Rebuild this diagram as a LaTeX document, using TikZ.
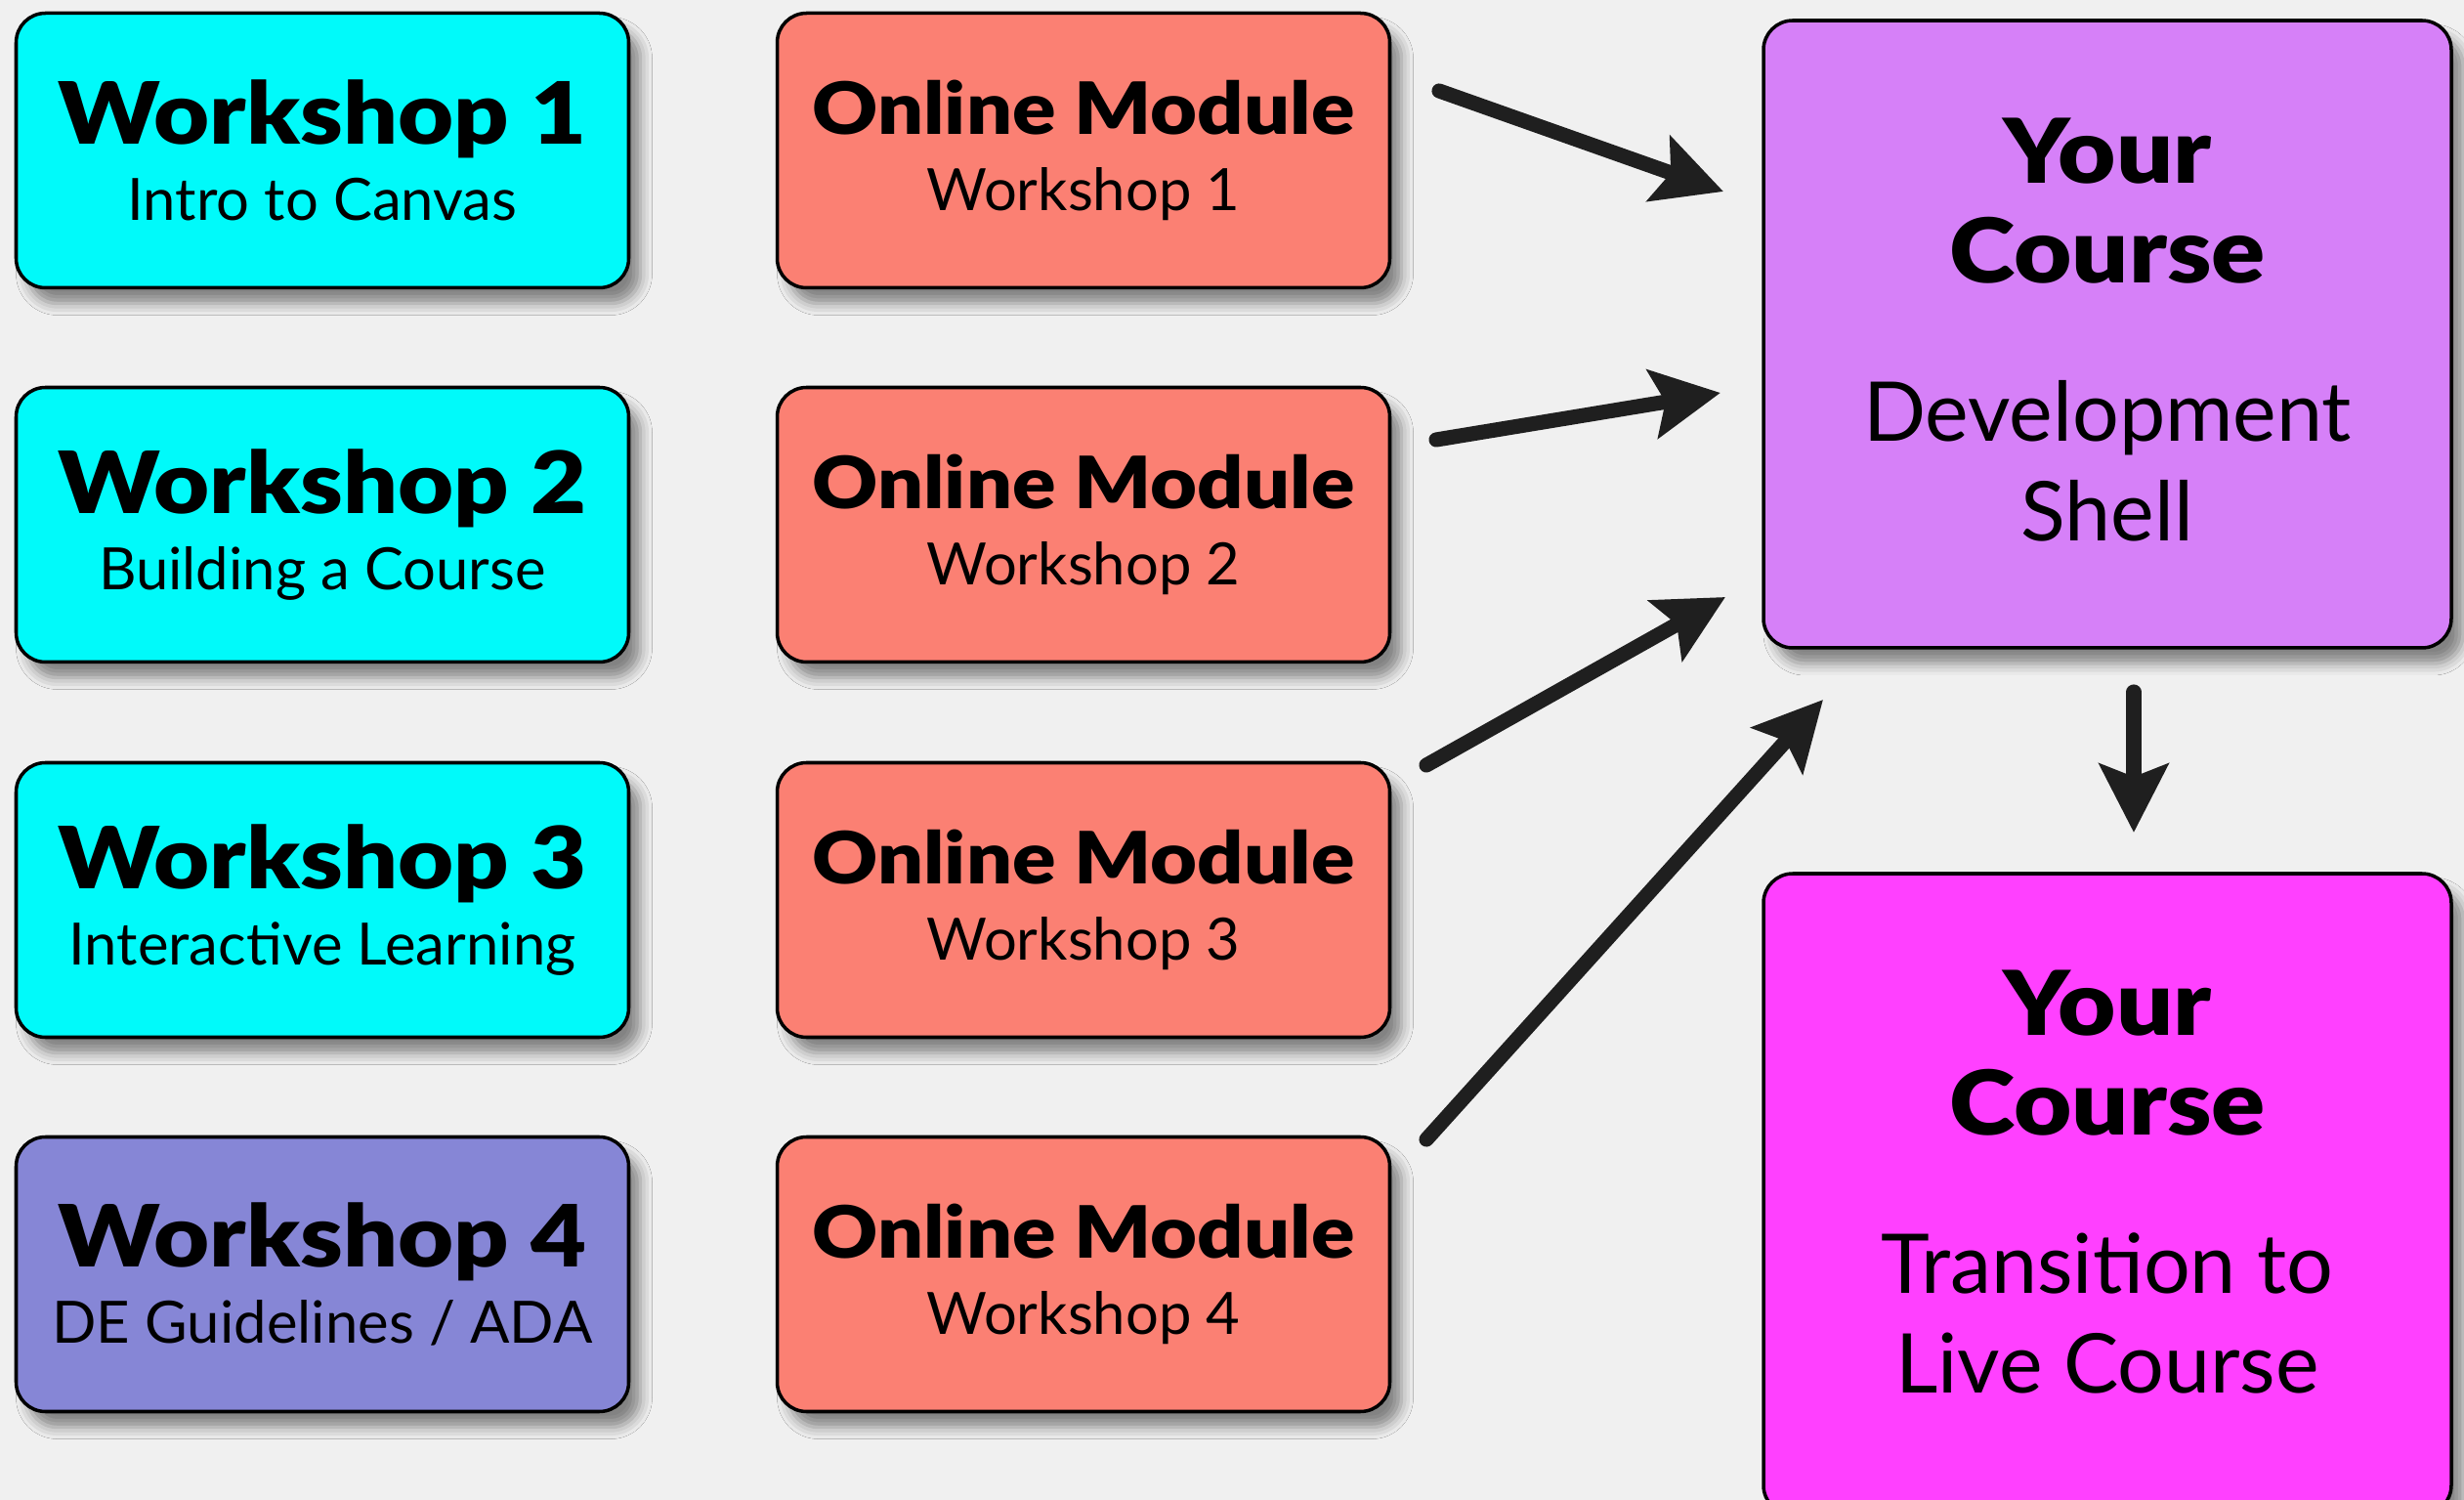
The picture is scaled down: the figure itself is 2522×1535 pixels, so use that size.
\documentclass[tikz,border=0pt]{standalone}
\usepackage{fontspec}
\setmainfont{Lato}
\newfontfamily\heavyfont{Lato Black}[FakeStretch=1.12]
\usetikzlibrary{arrows.meta,shadows.blur}

\definecolor{paper}{HTML}{F0F0F0}
\definecolor{wscyan}{HTML}{00FAFA}
\definecolor{wsblue}{HTML}{8686D6}
\definecolor{modsalmon}{HTML}{FB8073}
\definecolor{shellpurple}{HTML}{D680F8}
\definecolor{livemagenta}{HTML}{FF40FF}

% boxes: title on top, detail below
\newcommand{\heavy}[2]{{\heavyfont\fontsize{#1}{22}\selectfont #2}}
\newcommand{\wstext}[2]{\heavy{25}{#1}\\#2}
\newcommand{\modtext}[1]{\heavy{21}{Online Module}\\#1}
\newcommand{\coursetext}[2]{\heavy{26}{Your}\\\heavy{26}{Course}\\[17pt]#1\\#2}

\tikzset{
  stepbox/.style={draw=black, line width=1pt, rounded corners=3mm, align=center,
    inner sep=0pt,
    blur shadow={shadow xshift=1.2mm, shadow yshift=-1.6mm,
      shadow blur radius=1.2mm, shadow opacity=45}},
  wsbox/.style={stepbox, minimum width=62.7mm, minimum height=28.1mm,
    font=\fontsize{17}{22}\selectfont},
  coursebox/.style={stepbox, minimum width=70.4mm,
    font=\fontsize{24}{29}\selectfont},
  flow/.style={draw=black!88, line width=4.3pt, line cap=round,
    -{Stealth[length=7mm, width=7mm, inset=1.3mm]}},
}

\begin{document}
\begin{tikzpicture}[x=0.1mm, y=-0.1mm]
   \useasboundingbox (0,0) rectangle (2522,1535);
   \fill[paper] (0,0) rectangle (2522,1535);

   % workshops
   \node[wsbox, fill=wscyan] (ws1) at (330,154) {\wstext{Workshop 1}{Intro to Canvas}};
   \node[wsbox, fill=wscyan] (ws2) at (330,537) {\wstext{Workshop 2}{Building a Course}};
   \node[wsbox, fill=wscyan] (ws3) at (330,921) {\wstext{Workshop 3}{Interactive Learning}};
   \node[wsbox, fill=wsblue] (ws4) at (330,1304) {\wstext{Workshop 4}{DE Guidelines / ADA}};

   % online modules
   \node[wsbox, fill=modsalmon] (mod1) at (1109,154) {\modtext{Workshop 1}};
   \node[wsbox, fill=modsalmon] (mod2) at (1109,537) {\modtext{Workshop 2}};
   \node[wsbox, fill=modsalmon] (mod3) at (1109,921) {\modtext{Workshop 3}};
   \node[wsbox, fill=modsalmon] (mod4) at (1109,1304) {\modtext{Workshop 4}};

   % the course itself
   \node[coursebox, fill=shellpurple, minimum height=64.2mm, text depth=1mm] (shell)
      at (2157,342) {\coursetext{Development}{Shell}};
   \node[coursebox, fill=livemagenta, minimum height=65.6mm, text depth=2.6mm] (live)
      at (2157,1222) {\coursetext{Transition to}{Live Course}};

   \coordinate (a1s) at (1473,93);   \coordinate (a1e) at (1764,196);
   \coordinate (a2s) at (1470,450);  \coordinate (a2e) at (1761,402);
   \coordinate (a3s) at (1460,783);  \coordinate (a3e) at (1766,611);
   \coordinate (a4s) at (1460,1166); \coordinate (a4e) at (1866,716);
   \coordinate (ds) at (2184,708);   \coordinate (de) at (2184,852);

   \draw[flow] (a1s) -- (a1e);
   \draw[flow] (a2s) -- (a2e);
   \draw[flow] (a3s) -- (a3e);
   \draw[flow] (a4s) -- (a4e);
   \draw[flow] (ds) -- (de);
\end{tikzpicture}
\end{document}
